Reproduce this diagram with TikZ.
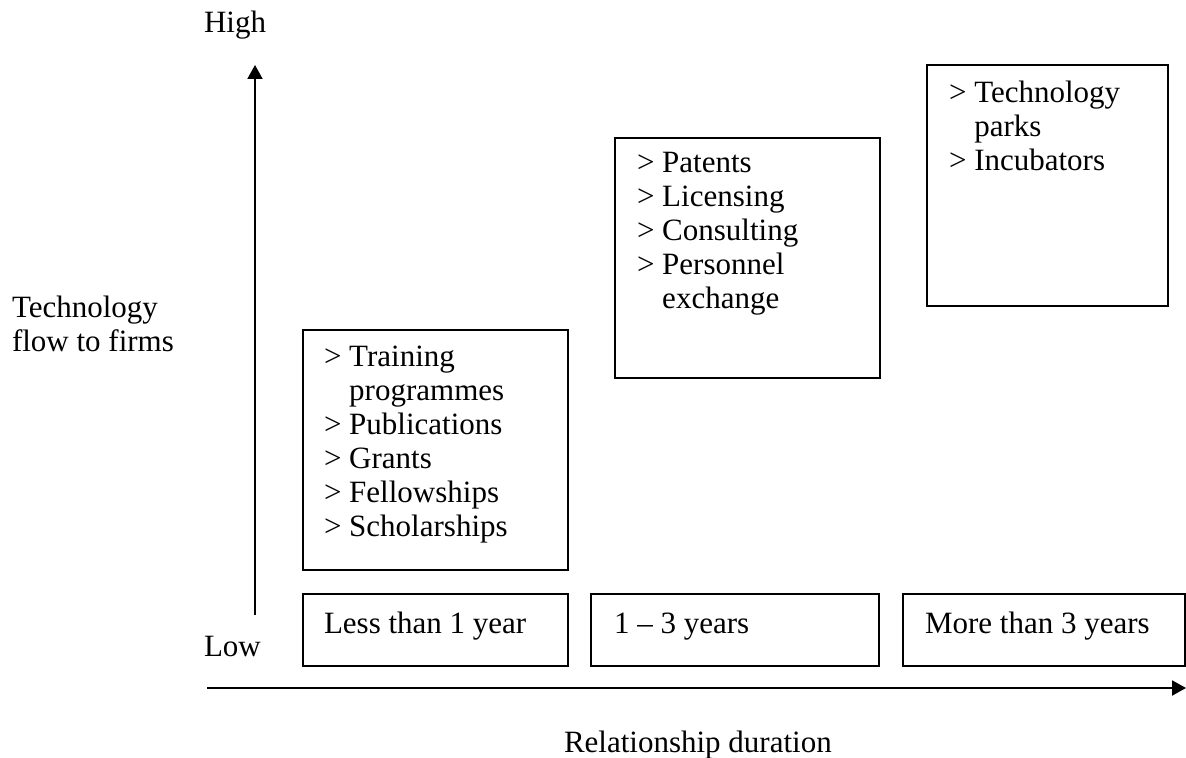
\documentclass[tikz,border=0pt]{standalone}
\usepackage{fontspec}
\setmainfont{Liberation Serif}
\usepackage{tikz}
\usetikzlibrary{positioning,arrows.meta}
\newcommand\subline{\hphantom{>\ }}

\begin{document}
\begin{tikzpicture}[x=0.5pt,y=-0.5pt,line width=1pt,font=\fontsize{15.5}{17}\selectfont]
% Two node styles: framed box and its text
\tikzstyle{box}=[draw,rectangle,anchor=north west,inner sep=0pt];
\tikzstyle{box text}=[anchor=north west,inner sep=0pt,align=left,execute at begin node=\strut];
\tikzstyle{axis}=[-{Triangle[length=7pt,width=7.5pt]}];
\useasboundingbox (0,0) rectangle (1186,758);
% The axes
\coordinate(y0) at (255,615);
\coordinate(y1) at (255,65);
\coordinate(x0) at (207,688);
\coordinate(x1) at (1186,688);
\draw[axis](y0)--(y1);
\draw[axis](x0)--(x1);
\node(high)[box text] at (203,8){High};
\node(low)[box text] at (203,632){Low};
\node(flow)[box text] at (11,295){Technology\\flow to firms};
\node(duration)[box text] at (563,728){Relationship duration};
% Duration boxes
\node(short)[box,minimum width=132.5pt,minimum height=36pt] at (302,593){};
\node(medium)[box,minimum width=144pt,minimum height=36pt] at (590,593){};
\node(long)[box,minimum width=141pt,minimum height=36pt] at (902,593){};
\node(shorttext)[box text,below right=8pt and 10.5pt of short.north west]{Less than 1 year};
\node(mediumtext)[box text,below right=8pt and 11.5pt of medium.north west]{1 -- 3 years};
\node(longtext)[box text,below right=8pt and 11pt of long.north west]{More than 3 years};
% Channel boxes
\node(shortlist)[box,minimum width=132.5pt,minimum height=120pt] at (302,329){};
\node(mediumlist)[box,minimum width=132.5pt,minimum height=120pt] at (614,137){};
\node(longlist)[box,minimum width=120.5pt,minimum height=120.5pt] at (926,64){};
\node(shortitems)[box text,below right=8pt and 10.5pt of shortlist.north west]{> Training\\\subline programmes\\> Publications\\> Grants\\> Fellowships\\> Scholarships};
\node(mediumitems)[box text,below right=7pt and 11pt of mediumlist.north west]{> Patents\\> Licensing\\> Consulting\\> Personnel\\\subline exchange};
\node(longitems)[box text,below right=8pt and 11pt of longlist.north west]{> Technology\\\subline parks\\> Incubators};
\end{tikzpicture}
\end{document}
